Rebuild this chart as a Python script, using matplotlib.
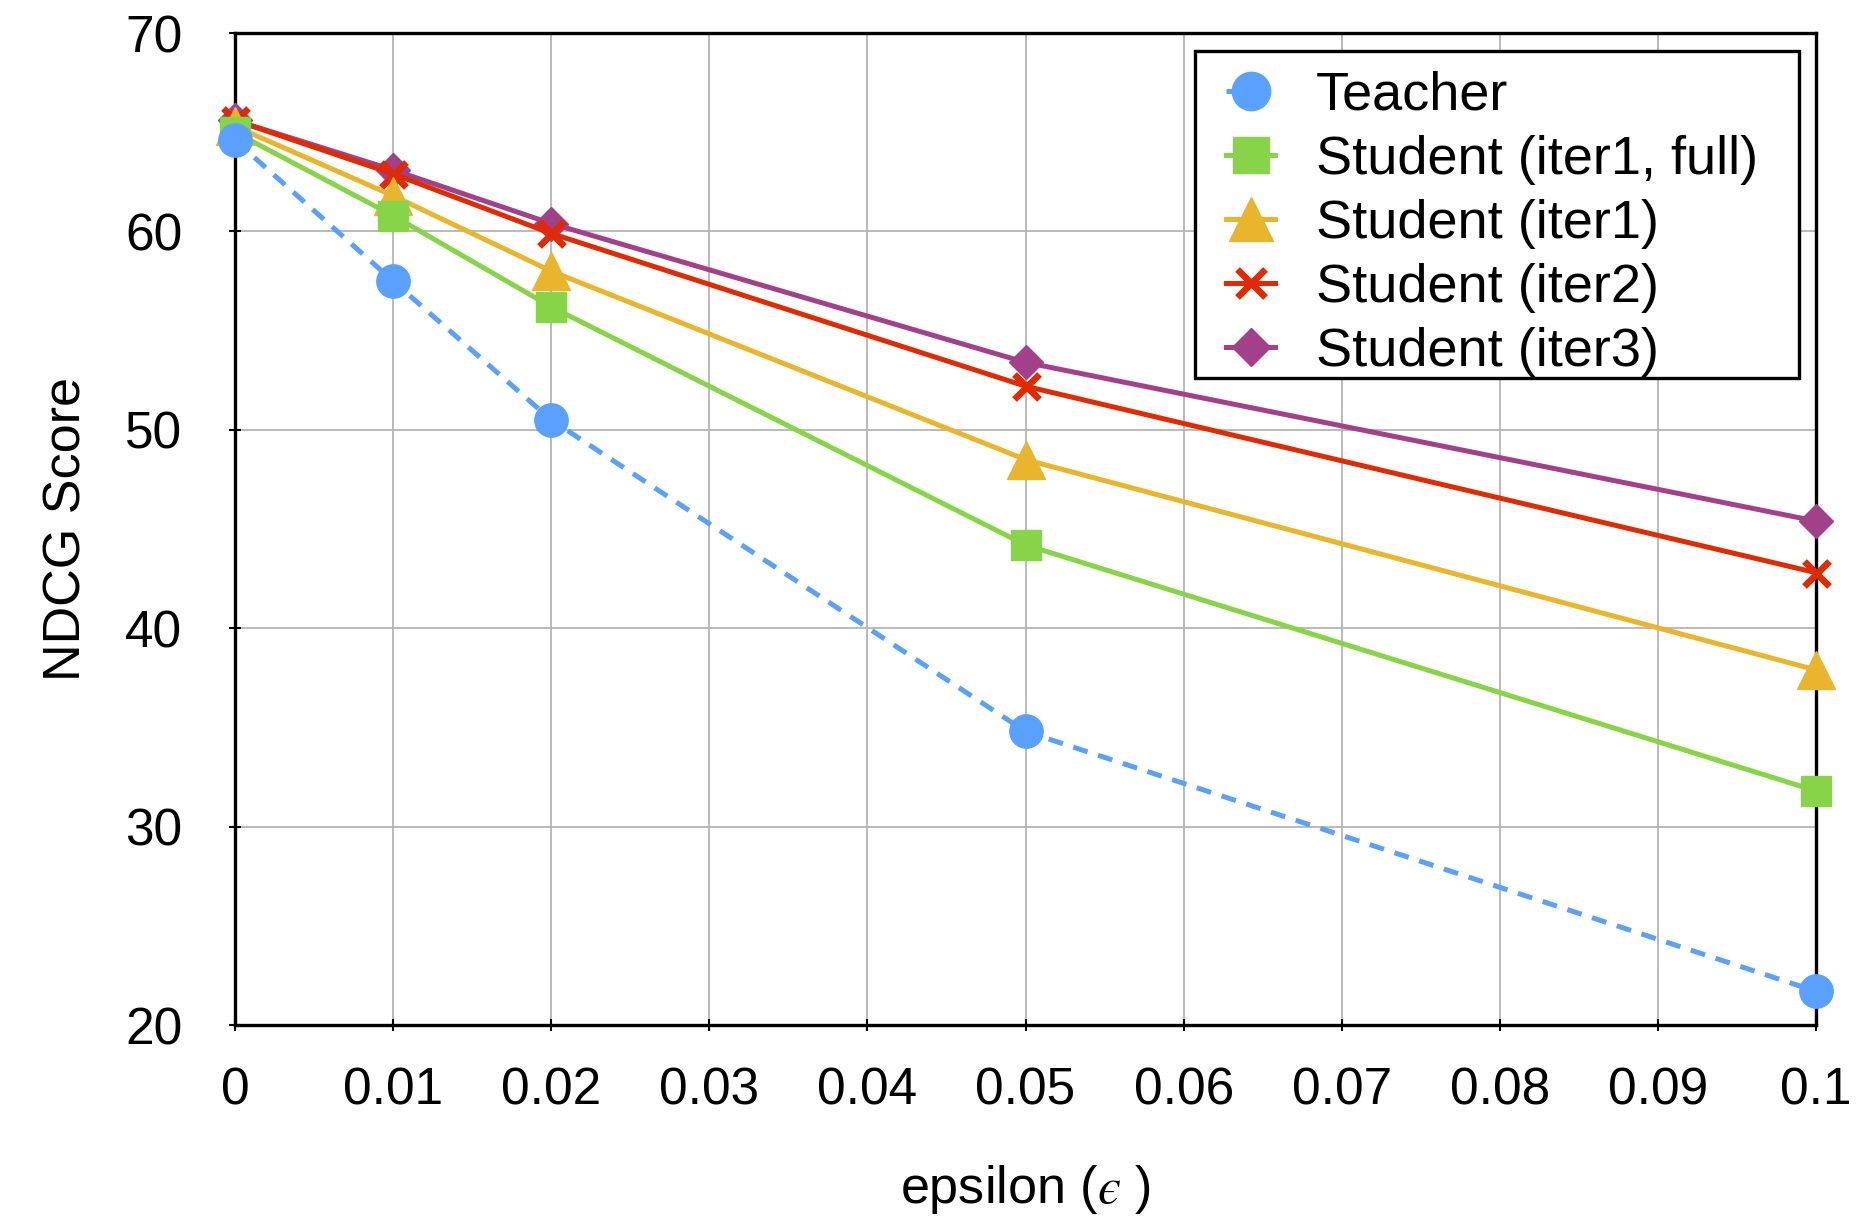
import matplotlib
matplotlib.use("Agg")
import matplotlib.pyplot as plt
from matplotlib.patches import Rectangle

plt.rcParams['font.family'] = ['Liberation Sans', 'DejaVu Sans']
plt.rcParams['mathtext.fontset'] = 'stix'

# data
eps = [0, 0.01, 0.02, 0.05, 0.1]
teacher = [64.6, 57.5, 50.5, 34.8, 21.7]
student_iter1_full = [65.0, 60.8, 56.2, 44.2, 31.8]
student_iter1 = [65.3, 61.8, 58.0, 48.5, 37.9]
student_iter2 = [65.6, 62.9, 59.9, 52.2, 42.8]
student_iter3 = [65.6, 63.1, 60.4, 53.4, 45.4]

x_ticks = [0, 0.01, 0.02, 0.03, 0.04, 0.05, 0.06, 0.07, 0.08, 0.09, 0.1]
x_labels = ['0', '0.01', '0.02', '0.03', '0.04', '0.05', '0.06', '0.07', '0.08', '0.09', '0.1']
y_ticks = [20, 30, 40, 50, 60, 70]

fig = plt.figure(figsize=(18.59, 12.20), dpi=100)
ax = fig.add_axes([0.1264, 0.1598, 0.8505, 0.8131])

# drawn back to front so the overlaps look like the original
h3, = ax.plot(eps, student_iter3, color='#a3408a', lw=3.6, marker='D',
              ms=17, mec='#a3408a', clip_on=False, zorder=3,
              label='Student (iter3)')
h2, = ax.plot(eps, student_iter2, color='#e02a00', lw=3.6, marker='x',
              ms=18, mew=4.8, clip_on=False, zorder=4,
              label='Student (iter2)')
h1, = ax.plot(eps, student_iter1, color='#e8b52c', lw=3.6, marker='^',
              ms=27, clip_on=False, zorder=5,
              label='Student (iter1)')
hf, = ax.plot(eps, student_iter1_full, color='#88d448', lw=3.6, marker='s',
              ms=22, clip_on=False, zorder=6,
              label='Student (iter1, full)')
ht, = ax.plot(eps, teacher, color='#5aa0ff', lw=3.6, ls=(0, (3, 2.2)),
              marker='o', ms=24, clip_on=False, zorder=7,
              label='Teacher')

ax.set_xlim(0, 0.1)
ax.set_ylim(20, 70)
ax.set_xticks(x_ticks)
ax.set_xticklabels(x_labels)
ax.set_yticks(y_ticks)

ax.grid(True, color='#b4b4b4', lw=1.3)
ax.set_axisbelow(True)
for s in ax.spines.values():
    s.set_linewidth(2.4)
    s.set_color('black')

ax.tick_params(axis='both', labelsize=37, direction='inout', length=8,
               width=1.5, color='black')
ax.tick_params(axis='x', pad=26)
ax.tick_params(axis='y', pad=34)

ax.set_xlabel('epsilon ($\u03f5$ )', fontsize=37.5, labelpad=34)
ax.set_ylabel('NDCG Score', fontsize=37.5, labelpad=24)

leg = ax.legend(handles=[ht, hf, h1, h2, h3], loc='upper right',
                bbox_to_anchor=(0.970, 0.973), borderaxespad=0,
                fontsize=39, frameon=False, handlelength=0.9,
                handletextpad=0.75, labelspacing=0.26, borderpad=0.2,
                markerscale=1.15)
leg.set_zorder(10)

# the original box has wider side margins than matplotlib's uniform
# borderpad, so draw the frame by hand around the legend
fig.canvas.draw()
bb = leg.get_window_extent()
pad_l, pad_r, pad_t, pad_b = 20, 30, 9, -10
box = Rectangle((bb.x0 - pad_l, bb.y0 - pad_b),
                bb.width + pad_l + pad_r, bb.height + pad_t + pad_b,
                transform=None, facecolor='white', edgecolor='black',
                lw=2.4, zorder=9, clip_on=False)
ax.add_artist(box)

fig.savefig('out.png', dpi=100)
